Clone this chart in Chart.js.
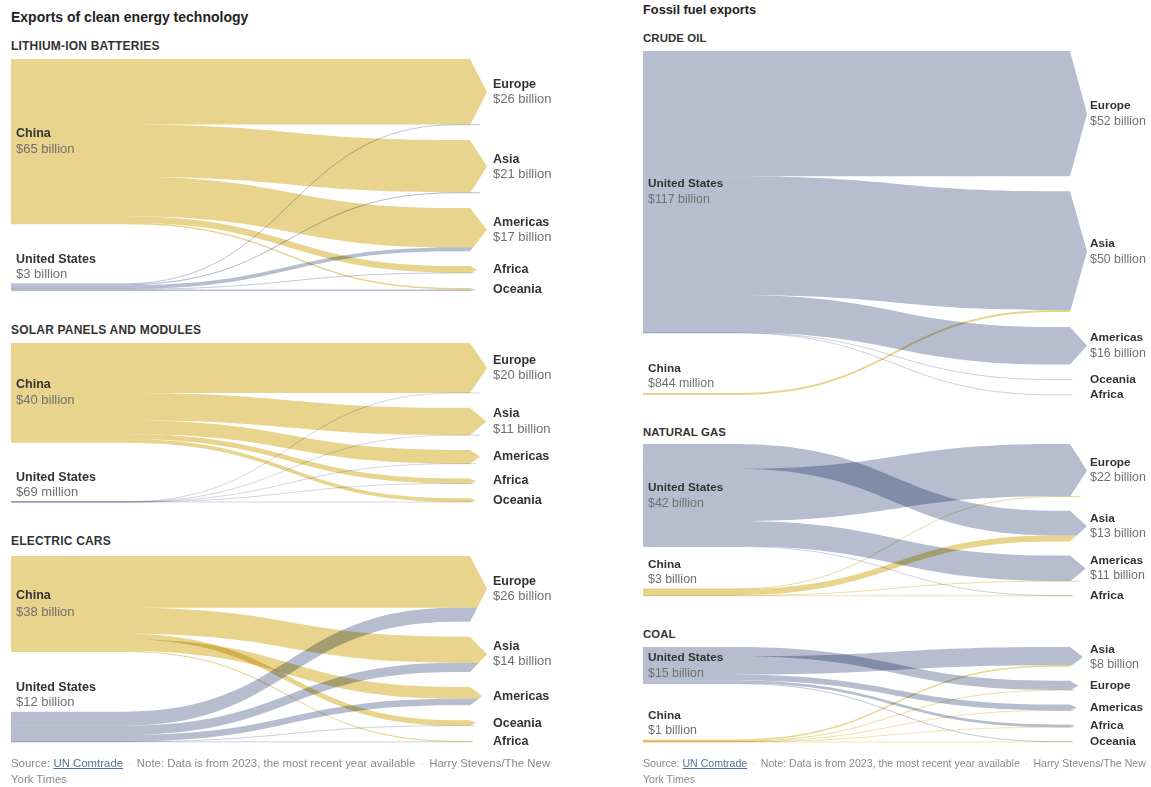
<!DOCTYPE html>
<html>
<head>
<meta charset="utf-8">
<script src="https://cdn.jsdelivr.net/npm/chart.js@4.4.1/dist/chart.umd.min.js"></script>
<style>
  body { margin: 0; background: #fff; width: 1151px; height: 787px; position: relative; overflow: hidden;
         font-family: "Liberation Sans", Arial, sans-serif; }
  .t { position: absolute; white-space: nowrap; font-weight: bold; color: #222; }
  .title { font-size: 14px; line-height: 16px; }
  .title.r { font-size: 12.8px; }
  .hd { font-size: 12px; line-height: 14px; letter-spacing: 0.2px; color: #333; }
  .hd.r { font-size: 11.4px; letter-spacing: 0.1px; }
  .panel { position: absolute; }
  .note { position: absolute; white-space: nowrap; font-size: 11.4px; line-height: 16px; color: #8a8a8a; }
  .note.r { font-size: 10.6px; }
  .note a { color: #4f7396; text-decoration: underline; }
  .note .dot { color: #cfcfcf; margin: 0 5px; }
</style>
</head>
<body>
<div class="t title" style="left:11px;top:9px">Exports of clean energy technology</div>
<div class="t title r" style="left:643px;top:2px">Fossil fuel exports</div>

<div class="t hd" style="left:11px;top:39px">LITHIUM-ION BATTERIES</div>
<div class="t hd" style="left:11px;top:323px">SOLAR PANELS AND MODULES</div>
<div class="t hd" style="left:11px;top:534px">ELECTRIC CARS</div>
<div class="t hd r" style="left:643px;top:31px">CRUDE OIL</div>
<div class="t hd r" style="left:643px;top:425px">NATURAL GAS</div>
<div class="t hd r" style="left:643px;top:627px">COAL</div>

<div class="panel" id="p1"><canvas id="c1"></canvas></div>
<div class="panel" id="p2"><canvas id="c2"></canvas></div>
<div class="panel" id="p3"><canvas id="c3"></canvas></div>
<div class="panel" id="p4"><canvas id="c4"></canvas></div>
<div class="panel" id="p5"><canvas id="c5"></canvas></div>
<div class="panel" id="p6"><canvas id="c6"></canvas></div>

<div class="note" style="left:11px;top:755px">Source: <a>UN Comtrade</a><span class="dot">·</span>Note: Data is from 2023, the most recent year available<span class="dot">·</span>Harry Stevens/The New<br>York Times</div>
<div class="note r" style="left:643px;top:755px">Source: <a>UN Comtrade</a><span class="dot">·</span>Note: Data is from 2023, the most recent year available<span class="dot">·</span>Harry Stevens/The New<br>York Times</div>

<script>
const chinaColor = "#e8d48c";
const usColor = "#b5bdcf";

// lithium-ion batteries (billions of dollars)
const liionTargets = ["Europe", "Asia", "Americas", "Africa", "Oceania"];
const liionTargetLabels = ["$26 billion", "$21 billion", "$17 billion", null, null];
const liionSourceLabels = ["$65 billion", "$3 billion"];
const liionChina = [25.7, 20.6, 15.5, 2.6, 0.6];
const liionUS = [0.3, 0.4, 1.5, 0.2, 0.6];

// solar panels and modules
const solarTargets = ["Europe", "Asia", "Americas", "Africa", "Oceania"];
const solarTargetLabels = ["$20 billion", "$11 billion", null, null, null];
const solarSourceLabels = ["$40 billion", "$69 million"];
const solarChina = [20, 11, 5.5, 2, 1.5];
const solarUS = [0.02, 0.015, 0.015, 0.01, 0.009];

// electric cars
const evTargets = ["Europe", "Asia", "Americas", "Oceania", "Africa"];
const evTargetLabels = ["$26 billion", "$14 billion", null, null, null];
const evSourceLabels = ["$38 billion", "$12 billion"];
const evChina = [20.5, 10.3, 4.7, 2.1, 0.4];
const evUS = [5.5, 3.7, 2.6, 0.1, 0.1];
const evChinaOrder = ["Europe", "Asia", "Oceania", "Americas", "Africa"];

// crude oil
const oilTargets = ["Europe", "Asia", "Americas", "Oceania", "Africa"];
const oilTargetLabels = ["$52 billion", "$50 billion", "$16 billion", null, null];
const oilSourceLabels = ["$117 billion", "$844 million"];
const oilUS = [52, 49.2, 15.6, 0.12, 0.08];
const oilChina = [0, 0.844, 0, 0, 0];

// natural gas
const gasTargets = ["Europe", "Asia", "Americas", "Africa"];
const gasTargetLabels = ["$22 billion", "$13 billion", "$11 billion", null];
const gasSourceLabels = ["$42 billion", "$3 billion"];
const gasUS = [21.5, 10.2, 10.4, 0.1];
const gasChina = [0.2, 2.5, 0.2, 0.15];
const gasUSOrder = ["Asia", "Europe", "Americas", "Africa"];

// coal
const coalTargets = ["Asia", "Europe", "Americas", "Africa", "Oceania"];
const coalTargetLabels = ["$8 billion", null, null, null, null];
const coalSourceLabels = ["$15 billion", "$1 billion"];
const coalUS = [7.45, 3.8, 2.4, 1.1, 0.25];
const coalChina = [0.6, 0.2, 0.1, 0.05, 0.05];
const coalUSOrder = ["Europe", "Asia", "Americas", "Africa", "Oceania"];

// column geometry (page pixels)
const LEFT = { left: 0, width: 580, x0: 11, xs: 125, xt: 455, xe: 470, labelGap: 23,
  nameFont: "bold 12.5px 'Liberation Sans', Arial, sans-serif", valueFont: "13px 'Liberation Sans', Arial, sans-serif" };
const RIGHT = { left: 632, width: 519, x0: 643, xs: 735, xt: 1055, xe: 1070, labelGap: 20,
  nameFont: "bold 11.8px 'Liberation Sans', Arial, sans-serif", valueFont: "12.4px 'Liberation Sans', Arial, sans-serif" };

const panels = [
  { id: "c1", col: LEFT, top: 59, bottom: 291, pad: 14.75, targets: liionTargets, targetLabels: liionTargetLabels,
    sources: [{ name: "China", label: liionSourceLabels[0], flows: liionChina, color: chinaColor },
              { name: "United States", label: liionSourceLabels[1], flows: liionUS, color: usColor }] },
  { id: "c2", col: LEFT, top: 343, bottom: 502, pad: 14.75, targets: solarTargets, targetLabels: solarTargetLabels,
    sources: [{ name: "China", label: solarSourceLabels[0], flows: solarChina, color: chinaColor },
              { name: "United States", label: solarSourceLabels[1], flows: solarUS, color: usColor }] },
  { id: "c3", col: LEFT, top: 556, bottom: 742, pad: 14.9, targets: evTargets, targetLabels: evTargetLabels,
    sources: [{ name: "China", label: evSourceLabels[0], flows: evChina, color: chinaColor, order: evChinaOrder },
              { name: "United States", label: evSourceLabels[1], flows: evUS, color: usColor }] },
  { id: "c4", col: RIGHT, top: 51, bottom: 395, pad: 15, targets: oilTargets, targetLabels: oilTargetLabels,
    sources: [{ name: "United States", label: oilSourceLabels[0], flows: oilUS, color: usColor },
              { name: "China", label: oilSourceLabels[1], flows: oilChina, color: chinaColor }] },
  { id: "c5", col: RIGHT, top: 444, bottom: 596, pad: 14, targets: gasTargets, targetLabels: gasTargetLabels,
    sources: [{ name: "United States", label: gasSourceLabels[0], flows: gasUS, color: usColor, order: gasUSOrder },
              { name: "China", label: gasSourceLabels[1], flows: gasChina, color: chinaColor }] },
  { id: "c6", col: RIGHT, top: 647, bottom: 742, pad: 13.9, targets: coalTargets, targetLabels: coalTargetLabels,
    sources: [{ name: "United States", label: coalSourceLabels[0], flows: coalUS, color: usColor, order: coalUSOrder },
              { name: "China", label: coalSourceLabels[1], flows: coalChina, color: chinaColor }] }
];

const sum = a => a.reduce((s, v) => s + v, 0);

// stack nodes and links in value units
function layoutPanel(p) {
  const nT = p.targets.length, nS = p.sources.length;
  const srcTot = p.sources.map(s => sum(s.flows));
  const tgtTot = p.targets.map((_, j) => sum(p.sources.map(s => s.flows[j])));
  const total = sum(srcTot);
  const H = p.bottom - p.top;
  const ky = (H - (nT - 1) * p.pad) / total;
  const yMax = H / ky;
  const tGap = p.pad / ky;
  const sGap = (yMax - total) / (nS - 1);
  let yy = 0;
  const srcNodes = srcTot.map(v => { const n = { y0: yy, y1: yy + v }; yy += v + sGap; return n; });
  yy = 0;
  const tgtNodes = tgtTot.map(v => { const n = { y0: yy, y1: yy + v }; yy += v + tGap; return n; });
  const links = [];
  const cur = tgtNodes.map(n => n.y0);
  p.sources.forEach((s, i) => {
    s.flows.forEach((v, j) => { links.push({ s: i, t: j, v, ty0: cur[j] }); cur[j] += v; });
  });
  p.sources.forEach((s, i) => {
    const order = s.order ? s.order.map(n => p.targets.indexOf(n)) : p.targets.map((_, j) => j);
    let c = srcNodes[i].y0;
    order.forEach(j => {
      const l = links.find(k => k.s === i && k.t === j);
      l.sy0 = c; c += l.v;
    });
  });
  return { yMax, srcNodes, tgtNodes, links };
}

function sankeyPlugin(p, L) {
  const c = p.col;
  return {
    id: "sankey",
    afterDatasetsDraw(chart) {
      const { ctx, scales: { x, y } } = chart;
      const X = v => x.getPixelForValue(v);
      const Y = v => y.getPixelForValue(v);
      const kpx = Y(1) - Y(0);
      const x0 = X(0), xs = X(c.xs - c.x0), xt = X(c.xt - c.x0), xe = X(c.xe - c.x0);
      const xm = (xs + xt) / 2;
      const depth = L.tgtNodes.map(n => Math.min(17, 4 + (n.y1 - n.y0) * kpx * 0.45));

      ctx.save();
      ctx.globalCompositeOperation = "multiply";
      L.links.forEach(l => {
        if (l.v <= 0) return;
        const col = p.sources[l.s].color;
        const n = L.tgtNodes[l.t];
        const th = l.v * kpx;
        const tip = xe + depth[l.t];
        if (th >= 1.2) {
          const a0 = Y(l.sy0), a1 = Y(l.sy0 + l.v), b0 = Y(l.ty0), b1 = Y(l.ty0 + l.v);
          ctx.save();
          ctx.beginPath();
          ctx.moveTo(0, 0); ctx.lineTo(xe, 0); ctx.lineTo(xe, Y(n.y0));
          ctx.lineTo(tip, (Y(n.y0) + Y(n.y1)) / 2);
          ctx.lineTo(xe, Y(n.y1)); ctx.lineTo(xe, chart.height); ctx.lineTo(0, chart.height);
          ctx.closePath();
          ctx.clip();
          ctx.beginPath();
          ctx.moveTo(x0, a0);
          ctx.lineTo(xs, a0);
          ctx.bezierCurveTo(xm, a0, xm, b0, xt, b0);
          ctx.lineTo(tip + 1, b0);
          ctx.lineTo(tip + 1, b1);
          ctx.lineTo(xt, b1);
          ctx.bezierCurveTo(xm, b1, xm, a1, xs, a1);
          ctx.lineTo(x0, a1);
          ctx.closePath();
          ctx.fillStyle = col;
          ctx.fill();
          ctx.restore();
        } else {
          const a = Y(l.sy0 + l.v / 2), b = Y(l.ty0 + l.v / 2);
          ctx.beginPath();
          ctx.moveTo(x0, a);
          ctx.lineTo(xs, a);
          ctx.bezierCurveTo(xm, a, xm, b, xt, b);
          ctx.lineTo(xe + depth[l.t] * 0.6, b);
          ctx.lineWidth = Math.max(th, 1);
          ctx.strokeStyle = col;
          ctx.globalAlpha = 0.6 + 0.4 * Math.min(th, 1);
          ctx.stroke();
          ctx.globalAlpha = 1;
        }
      });
      ctx.restore();

      // labels
      ctx.save();
      ctx.textBaseline = "middle";
      ctx.textAlign = "left";
      const lx = x0 + 5;
      p.sources.forEach((s, i) => {
        const n = L.srcNodes[i];
        const top = Y(n.y0), h = (n.y1 - n.y0) * kpx;
        let ny, vy;
        if (h >= 34) { const m = top + h / 2; ny = m - 8; vy = m + 8; }
        else { vy = top - 9; ny = top - 24; }
        ctx.font = c.nameFont; ctx.fillStyle = "#333";
        ctx.fillText(s.name, lx, ny);
        ctx.font = c.valueFont; ctx.fillStyle = "#707070";
        ctx.fillText(s.label, lx, vy);
      });
      const tx = xe + c.labelGap;
      p.targets.forEach((t, j) => {
        const n = L.tgtNodes[j];
        const m = (Y(n.y0) + Y(n.y1)) / 2;
        const v = p.targetLabels[j];
        ctx.font = c.nameFont; ctx.fillStyle = "#333";
        ctx.fillText(t, tx, v ? m - 7.5 : m);
        if (v) {
          ctx.font = c.valueFont; ctx.fillStyle = "#707070";
          ctx.fillText(v, tx, m + 7.5);
        }
      });
      ctx.restore();
    }
  };
}

const PADV = 14;
panels.forEach(p => {
  const L = layoutPanel(p);
  const c = p.col;
  const box = document.getElementById(p.id).parentElement;
  const h = p.bottom - p.top + 2 * PADV;
  box.style.left = c.left + "px";
  box.style.top = (p.top - PADV) + "px";
  const cv = document.getElementById(p.id);
  cv.width = c.width; cv.height = h;
  cv.style.width = c.width + "px"; cv.style.height = h + "px";
  new Chart(cv, {
    type: "scatter",
    data: { datasets: [] },
    options: {
      responsive: false,
      animation: false,
      devicePixelRatio: 1,
      layout: { padding: { left: c.x0 - c.left, right: c.left + c.width - c.xe, top: PADV, bottom: PADV } },
      plugins: { legend: { display: false }, tooltip: { enabled: false } },
      scales: {
        x: { type: "linear", display: false, min: 0, max: c.xe - c.x0 },
        y: { type: "linear", display: false, min: 0, max: L.yMax, reverse: true }
      }
    },
    plugins: [sankeyPlugin(p, L)]
  });
});
</script>
</body>
</html>
